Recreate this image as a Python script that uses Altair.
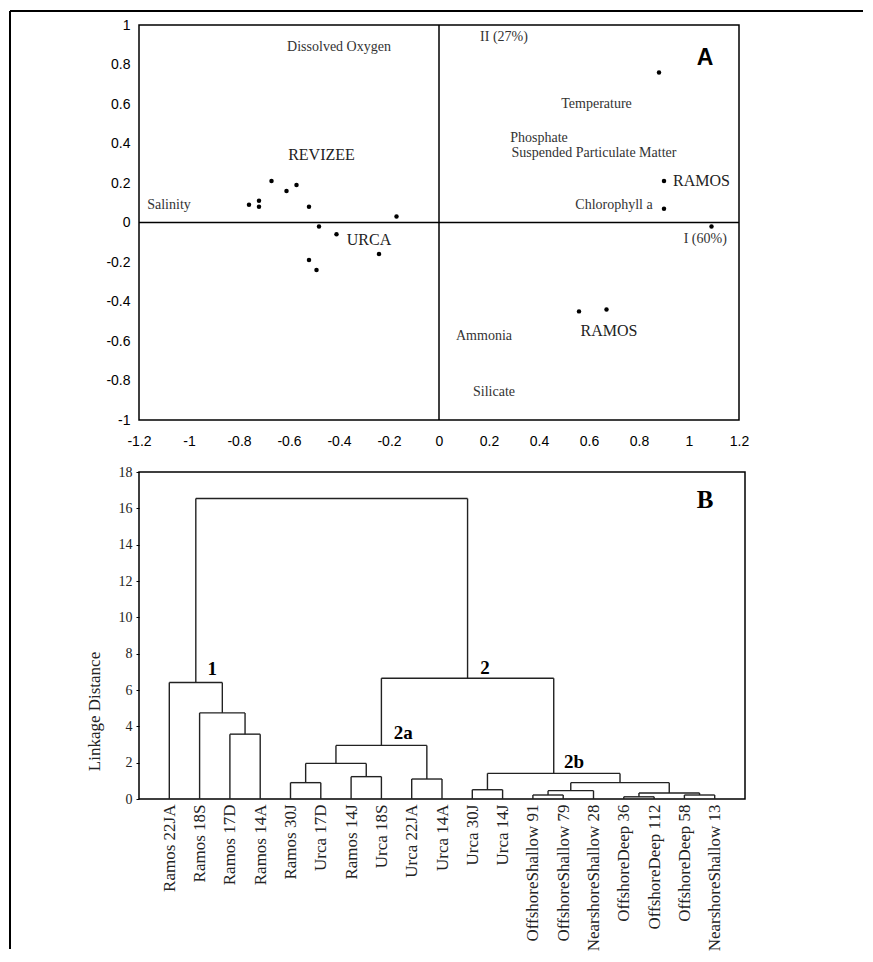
import json
import altair as alt
import pandas as pd

SERIF = "Liberation Serif"
SANS = "Liberation Sans"

# ---------------- Panel A: PCA ordination ----------------
score_pc1 = [-0.76, -0.72, -0.72, -0.67, -0.61, -0.57, -0.52, -0.48, -0.41, -0.24,
             -0.52, -0.49, -0.17, 0.88, 0.90, 0.90, 1.09, 0.56, 0.67]
score_pc2 = [0.09, 0.11, 0.08, 0.21, 0.16, 0.19, 0.08, -0.02, -0.06, -0.16,
             -0.19, -0.24, 0.03, 0.76, 0.21, 0.07, -0.02, -0.45, -0.44]

var_names = ["Dissolved Oxygen", "Salinity", "Temperature", "Phosphate",
             "Suspended Particulate Matter", "Chlorophyll a", "Ammonia", "Silicate"]
var_x = [-0.40, -1.08, 0.63, 0.40, 0.62, 0.70, 0.18, 0.22]
var_y = [0.89, 0.09, 0.60, 0.43, 0.35, 0.09, -0.575, -0.86]

group_names = ["REVIZEE", "URCA", "RAMOS", "RAMOS"]
group_x = [-0.47, -0.28, 1.05, 0.68]
group_y = [0.34, -0.09, 0.21, -0.55]

axis_names = ["II  (27%)", "I  (60%)"]
axis_x = [0.26, 1.065]
axis_y = [0.94, -0.085]

a_ticks_x = [-1.2, -1.0, -0.8, -0.6, -0.4, -0.2, 0.0, 0.2, 0.4, 0.6, 0.8, 1.0, 1.2]
a_ticks_y = [-1.0, -0.8, -0.6, -0.4, -0.2, 0.0, 0.2, 0.4, 0.6, 0.8, 1.0]

# ---------------- Panel B: cluster dendrogram ----------------
leaf_names = ["Ramos 22JA", "Ramos 18S", "Ramos 17D", "Ramos 14A", "Ramos 30J",
              "Urca 17D", "Ramos 14J", "Urca 18S", "Urca 22JA", "Urca 14A",
              "Urca 30J", "Urca 14J", "OffshoreShallow 91", "OffshoreShallow 79",
              "NearshoreShallow 28", "OffshoreDeep 36", "OffshoreDeep 112",
              "OffshoreDeep 58", "NearshoreShallow 13"]
merge_left = [2, 1, 0, 4, 6, 22, 8, 24, 10, 12, 28, 15, 17, 30, 29, 27, 26, 21]
merge_right = [3, 19, 20, 5, 7, 23, 9, 25, 11, 13, 14, 16, 18, 31, 32, 33, 34, 35]
merge_height = [3.57, 4.74, 6.41, 0.90, 1.23, 1.96, 1.10, 2.95, 0.51, 0.22,
                0.46, 0.12, 0.22, 0.33, 0.90, 1.41, 6.65, 16.54]

cluster_names = ["1", "2a", "2", "2b"]
cluster_x = [1.42, 7.72, 10.42, 13.36]
cluster_y = [7.18, 3.66, 7.23, 2.01]

b_ticks_y = [0, 2, 4, 6, 8, 10, 12, 14, 16, 18]

# ---------------- build tables ----------------
scores = pd.DataFrame({"x": score_pc1, "y": score_pc2})
vars_df = pd.DataFrame({"x": var_x, "y": var_y, "t": var_names})
groups_df = pd.DataFrame({"x": group_x, "y": group_y, "t": group_names})
axes_df = pd.DataFrame({"x": axis_x, "y": axis_y, "t": axis_names})
panelA_df = pd.DataFrame({"x": [1.064], "y": [0.834], "t": ["A"]})
zero_df = pd.DataFrame({"x": [0.0], "y": [0.0]})
one = pd.DataFrame({"k": [0]})

pos = list(range(len(leaf_names)))
hgt = [0.0] * len(leaf_names)
segs = []
for l, r, h in zip(merge_left, merge_right, merge_height):
    segs.append({"x": pos[l], "x2": pos[l], "y": hgt[l], "y2": h})
    segs.append({"x": pos[r], "x2": pos[r], "y": hgt[r], "y2": h})
    segs.append({"x": pos[l], "x2": pos[r], "y": h, "y2": h})
    pos.append((pos[l] + pos[r]) / 2)
    hgt.append(h)
segs_df = pd.DataFrame(segs)
clusters_df = pd.DataFrame({"x": cluster_x, "y": cluster_y, "t": cluster_names})
panelB_df = pd.DataFrame({"x": [17.68], "y": [16.48], "t": ["B"]})

# ---------------- Panel A chart ----------------
num_expr = "toString(round(datum.value*10)/10)"
xA = alt.X("x:Q", scale=alt.Scale(domain=[-1.2, 1.2], nice=False, zero=False),
           axis=alt.Axis(values=a_ticks_x, labelExpr=num_expr, title=None, grid=False,
                         ticks=False, domain=False, labelFont=SANS, labelFontSize=14,
                         labelColor="black", labelPadding=14, labelFlush=False,
                         labelOverlap=False))
yA = alt.Y("y:Q", scale=alt.Scale(domain=[-1, 1], nice=False, zero=False),
           axis=alt.Axis(values=a_ticks_y, labelExpr=num_expr, title=None, grid=False,
                         ticks=False, domain=False, labelFont=SANS, labelFontSize=14,
                         labelColor="black", labelPadding=9, labelFlush=False,
                         labelOverlap=False))

pts = alt.Chart(scores).mark_circle(size=20, color="black", opacity=1).encode(x=xA, y=yA)
zero_v = alt.Chart(zero_df).mark_rule(color="black", strokeWidth=1.5).encode(x=xA)
zero_h = alt.Chart(zero_df).mark_rule(color="black", strokeWidth=1.5).encode(y=yA)
var_txt = alt.Chart(vars_df).mark_text(font=SERIF, fontSize=14, color="#333",
                                       align="center", baseline="middle").encode(x=xA, y=yA, text="t:N")
grp_txt = alt.Chart(groups_df).mark_text(font=SERIF, fontSize=16, color="#222",
                                         align="center", baseline="middle").encode(x=xA, y=yA, text="t:N")
ax_txt = alt.Chart(axes_df).mark_text(font=SERIF, fontSize=14, color="#333",
                                      align="center", baseline="middle").encode(x=xA, y=yA, text="t:N")
a_lbl = alt.Chart(panelA_df).mark_text(font=SANS, fontSize=23, fontWeight="bold", color="black",
                                       align="center", baseline="middle").encode(x=xA, y=yA, text="t:N")
frame_left = alt.Chart(one).mark_rule(color="black", strokeWidth=2).encode(
    x=alt.value(-129), y=alt.value(-14), y2=alt.value(924))
frame_top = alt.Chart(one).mark_rule(color="black", strokeWidth=2).encode(
    x=alt.value(-129), x2=alt.value(724), y=alt.value(-14))

chartA = alt.layer(pts, zero_v, zero_h, var_txt, grp_txt, ax_txt, a_lbl, frame_left, frame_top).properties(
    width=600, height=395)

# ---------------- Panel B chart ----------------
leaf_expr = json.dumps(leaf_names) + "[datum.value]"
xB = alt.X("x:Q", scale=alt.Scale(domain=[-1, 19], nice=False, zero=False),
           axis=alt.Axis(values=list(range(len(leaf_names))), labelExpr=leaf_expr, title=None,
                         grid=False, ticks=False, domain=False, labelAngle=270,
                         labelFont=SERIF, labelFontSize=17, labelColor="#222",
                         labelPadding=5, labelFlush=False, labelOverlap=False))
yB = alt.Y("y:Q", scale=alt.Scale(domain=[0, 18], nice=False, zero=False),
           axis=alt.Axis(values=b_ticks_y, title="Linkage Distance", grid=False,
                         ticks=True, tickSize=3, tickColor="black", domain=False,
                         labelFont=SERIF, labelFontSize=14, labelColor="#222",
                         labelPadding=4, labelFlush=False, labelOverlap=False,
                         titleFont=SERIF, titleFontSize=17, titleFontWeight="normal",
                         titleColor="#222", titleX=-36, titleY=239))

tree = alt.Chart(segs_df).mark_rule(color="#222", strokeWidth=1.4).encode(
    x=xB, x2="x2:Q", y=yB, y2="y2:Q")
clus_txt = alt.Chart(clusters_df).mark_text(font=SERIF, fontSize=19, fontWeight="bold", color="black",
                                            align="center", baseline="middle").encode(x=xB, y=yB, text="t:N")
b_lbl = alt.Chart(panelB_df).mark_text(font=SERIF, fontSize=25, fontWeight="bold", color="black",
                                       align="center", baseline="middle").encode(x=xB, y=yB, text="t:N")

chartB = alt.layer(tree, clus_txt, b_lbl).properties(width=606, height=327)

chart = alt.vconcat(chartA, chartB, spacing=52, bounds="flush").properties(
    padding={"left": 0, "top": 1, "right": 0, "bottom": 0}
).configure_view(stroke="black", strokeWidth=1.5).configure_axis(grid=False, labelOverlap=False)

chart.save("out.html", embed_options={"renderer": "svg", "actions": False})
